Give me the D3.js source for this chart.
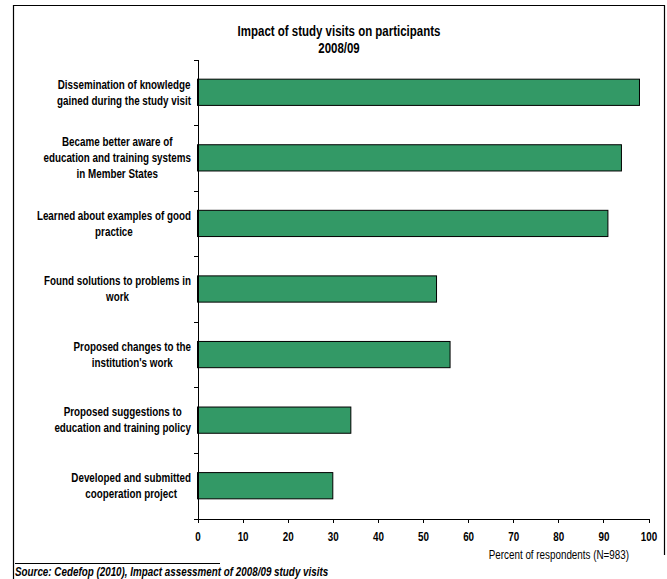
<!DOCTYPE html>
<html><head><meta charset="utf-8">
<script src="https://cdn.jsdelivr.net/npm/d3@7"></script>
<style>html,body{margin:0;padding:0;background:#fff;} svg{display:block;}</style>
</head><body><svg id="chart" width="667" height="579"></svg>
<script>
const titleLines = ["Impact of study visits on participants", "2008/09"];
const categoryLines = [
  ["Dissemination of knowledge", "gained during the study visit"],
  ["Became better aware of", "education and training systems", "in Member States"],
  ["Learned about examples of good", "practice"],
  ["Found solutions to problems in", "work"],
  ["Proposed changes to the", "institution's work"],
  ["Proposed suggestions to", "education and training policy"],
  ["Developed and submitted", "cooperation project"]
];
const categories = categoryLines.map(l => l.join(" "));
const values = [98, 94, 91, 53, 56, 34, 30];
const xTickValues = [0, 10, 20, 30, 40, 50, 60, 70, 80, 90, 100];
const xAxisTitle = "Percent of respondents (N=983)";
const sourceText = "Source: Cedefop (2010), Impact assessment of 2008/09 study visits";

// font detection: narrow font if available, else horizontally scaled sans
const ctx = document.createElement("canvas").getContext("2d");
ctx.font = "bold 20px 'Liberation Sans Narrow', 'Liberation Sans'";
const wN = ctx.measureText("abcdefghijklmnopqrstuvwxyz").width;
ctx.font = "bold 20px 'Liberation Sans'";
const wR = ctx.measureText("abcdefghijklmnopqrstuvwxyz").width;
const hasNarrow = wN < wR * 0.9;
const FONT = hasNarrow ? "'Liberation Sans Narrow', 'Arial Narrow', sans-serif" : "'Liberation Sans', Arial, sans-serif";
const SX = hasNarrow ? 1 : 0.82;

const svg = d3.select("#chart");

function addText(parent, x, y, str, o) {
  return parent.append("text")
    .attr("transform", `translate(${x},${y}) scale(${SX},1)`)
    .attr("font-family", FONT)
    .attr("font-size", o.size)
    .attr("font-weight", o.weight || "normal")
    .attr("font-style", o.style || "normal")
    .attr("text-anchor", o.anchor || "start")
    .attr("fill", "#000")
    .text(str);
}

// frame
svg.append("path")
  .attr("d", "M13.5,579 L13.5,5.5 L664.5,5.5 L664.5,555")
  .attr("fill", "none").attr("stroke", "#000").attr("stroke-width", 1.2);

// title
addText(svg, 339, 36, titleLines[0], {size: 14, weight: "bold", anchor: "middle"});
addText(svg, 339, 52.5, titleLines[1], {size: 14, weight: "bold", anchor: "middle"});

const plotTop = 59.5, plotBottom = 518.5, plotLeft = 197.5, plotRight = 648.5;

const x = d3.scaleLinear().domain([0, 100]).range([plotLeft, plotRight]);
const y = d3.scaleBand().domain(categories).range([plotTop, plotBottom])
  .paddingInner(0.6).paddingOuter(0.3);

// bars
svg.append("g").selectAll("rect").data(values).join("rect")
  .attr("x", x(0))
  .attr("y", (d, i) => y(categories[i]))
  .attr("width", d => x(d) - x(0))
  .attr("height", y.bandwidth())
  .attr("fill", "#339966")
  .attr("stroke", "#000")
  .attr("stroke-width", 1);

// y axis (ticks at category boundaries)
const yb = d3.scaleLinear().domain([0, categories.length]).range([plotTop, plotBottom]);
const gy = svg.append("g").attr("transform", `translate(${plotLeft},0)`)
  .call(d3.axisLeft(yb).ticks(categories.length).tickSize(4).tickSizeOuter(0).tickFormat(""));
gy.selectAll("path,line").attr("stroke", "#000").attr("shape-rendering", "crispEdges");

// x axis
const gx = svg.append("g").attr("transform", `translate(0,${plotBottom})`)
  .call(d3.axisBottom(x).tickValues(xTickValues).tickSize(4).tickSizeOuter(0));
gx.selectAll("path,line").attr("stroke", "#000").attr("shape-rendering", "crispEdges");
gx.selectAll("text")
  .attr("y", 0).attr("dy", null)
  .attr("transform", `translate(0,22.5) scale(${SX},1)`)
  .attr("font-family", FONT).attr("font-size", 12).attr("font-weight", "bold").attr("fill", "#000");
gx.attr("font-family", null).attr("font-size", null);

// category labels: block right-aligned near axis, lines centered within block
const labelRight = 191;
const lh = 16;
categoryLines.forEach((lines, i) => {
  const cy = y(categories[i]) + y.bandwidth() / 2;
  const g = svg.append("g");
  const texts = lines.map((ln, j) => addText(g, 0, 0, ln, {size: 12, weight: "bold", anchor: "middle"}));
  const maxW = d3.max(texts, t => t.node().getComputedTextLength()) * SX;
  const cx = labelRight - maxW / 2;
  texts.forEach((t, j) => {
    const by = cy + (j - (lines.length - 1) / 2) * lh + 4.3;
    t.attr("transform", `translate(${cx},${by}) scale(${SX},1)`);
  });
});

// x axis title
addText(svg, 629, 558.5, xAxisTitle, {size: 12, anchor: "end"});

// source
svg.append("line").attr("x1", 15).attr("x2", 220).attr("y1", 563.5).attr("y2", 563.5)
  .attr("stroke", "#000").attr("stroke-width", 1);
addText(svg, 15, 576, sourceText, {size: 12, weight: "bold", style: "italic"});
</script>
</body></html>
